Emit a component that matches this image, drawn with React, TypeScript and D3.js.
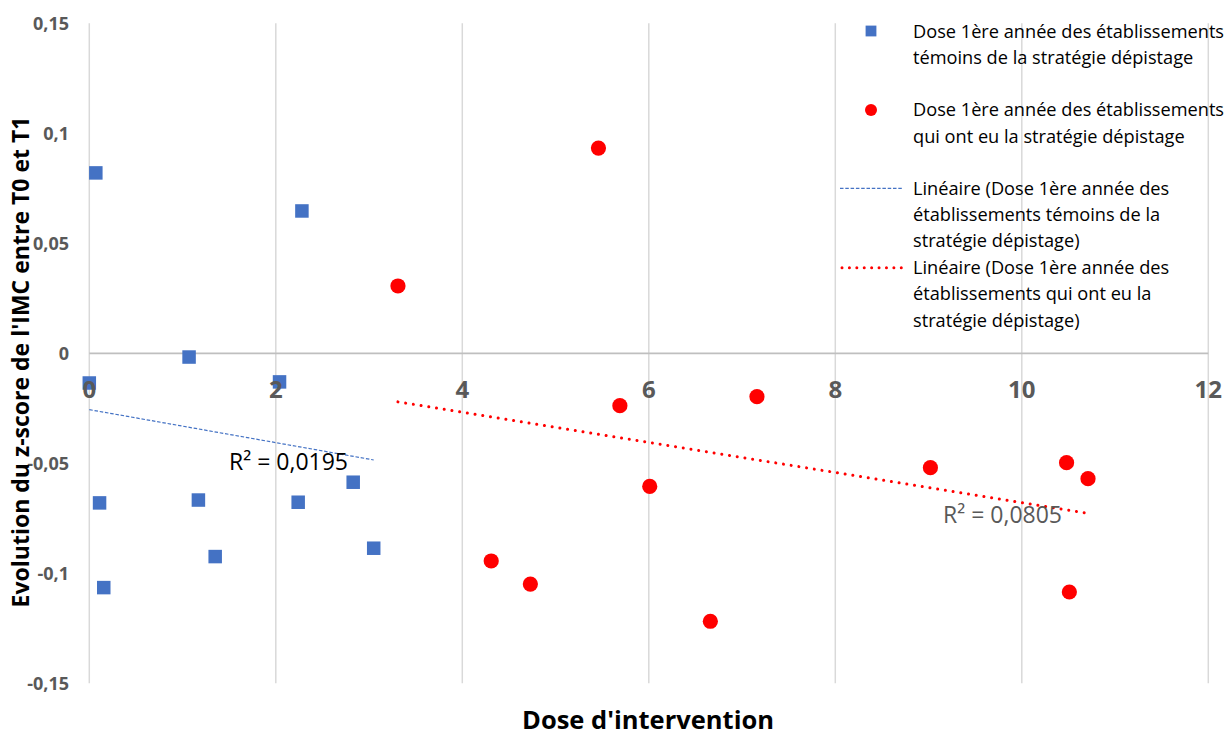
import React from "react";
import * as d3 from "d3";

const xTicks = [0, 2, 4, 6, 8, 10, 12];
const yTicks = [0.15, 0.1, 0.05, 0, -0.05, -0.1, -0.15];
const yTickLabels = ["0,15", "0,1", "0,05", "0", "-0,05", "-0,1", "-0,15"];

const blueX = [0, 0.07, 1.07, 2.04, 2.28, 0.11, 0.155, 1.17, 1.35, 2.24, 2.83, 3.05];
const blueY = [-0.0135, 0.082, -0.0017, -0.013, 0.0647, -0.068, -0.1065, -0.0667, -0.0924, -0.0677, -0.0586, -0.0886];

const redX = [3.31, 5.46, 5.69, 6.01, 7.16, 4.31, 4.73, 6.66, 9.02, 10.48, 10.71, 10.51];
const redY = [0.0306, 0.0933, -0.0238, -0.0605, -0.0197, -0.0944, -0.1049, -0.1218, -0.052, -0.0497, -0.057, -0.1085];

const r2Labels = ["R² = 0,0195", "R² = 0,0805"];

const legendBlue = ["Dose 1ère année des établissements", "témoins de la stratégie dépistage"];
const legendRed = ["Dose 1ère année des établissements", "qui ont eu la stratégie dépistage"];
const legendBlueTrend = ["Linéaire (Dose 1ère année des", "établissements témoins de la", "stratégie dépistage)"];
const legendRedTrend = ["Linéaire (Dose 1ère année des", "établissements qui ont eu la", "stratégie dépistage)"];

const xTitle = "Dose d'intervention";
const yTitle = "Evolution du z-score de l'IMC entre T0 et T1";

const BLUE = "#4472C4";
const RED = "#FF0000";
const FONT = "'Open Sans', sans-serif";

function regression(xs: number[], ys: number[]) {
  const mx = d3.mean(xs)!;
  const my = d3.mean(ys)!;
  let sxy = 0, sxx = 0;
  xs.forEach((x, i) => {
    sxy += (x - mx) * (ys[i] - my);
    sxx += (x - mx) * (x - mx);
  });
  const slope = sxy / sxx;
  const intercept = my - slope * mx;
  const [x0, x1] = d3.extent(xs) as [number, number];
  return [
    [x0, intercept + slope * x0],
    [x1, intercept + slope * x1],
  ] as [number, number][];
}

export default function App() {
  const W = 1231, H = 736;
  const x = d3.scaleLinear().domain([0, 12]).range([89.3, 1208.3]);
  const y = d3.scaleLinear().domain([-0.15, 0.15]).range([683.3, 23.3]);
  const line = d3.line<[number, number]>().x((d) => x(d[0])).y((d) => y(d[1]));
  const blueTrend = regression(blueX, blueY);
  const redTrend = regression(redX, redY);
  const sq = 13.5;

  const legendText = (lines: string[], yc: number) =>
    lines.map((t, i) => (
      <text key={i} x={913} y={yc + i * 26.3} dy="0.35em" fontSize={18.2} fill="#000" fontFamily={FONT}>
        {t}
      </text>
    ));

  return (
    <svg width={W} height={H} style={{ position: "absolute", left: 0, top: 0, display: "block", background: "#fff" }}>
      {/* vertical gridlines */}
      {xTicks.map((t) => (
        <line key={t} x1={x(t)} x2={x(t)} y1={y(0.15)} y2={y(-0.15)} stroke="#d9d9d9" strokeWidth={1.5} />
      ))}
      {/* x axis line at 0 */}
      <line x1={x(0)} x2={x(12)} y1={y(0)} y2={y(0)} stroke="#bfbfbf" strokeWidth={1.8} />

      {/* y tick labels */}
      {yTicks.map((t, i) => (
        <text key={t} x={69} y={y(t)} dy="0.35em" textAnchor="end" fontSize={18} fontWeight="bold" fill="#595959" fontFamily={FONT}>
          {yTickLabels[i]}
        </text>
      ))}

      {/* trendlines */}
      <path d={line(blueTrend)!} fill="none" stroke={BLUE} strokeWidth={1.2} strokeDasharray="3.5,1.8" />
      <path d={line(redTrend)!} fill="none" stroke={RED} strokeWidth={3} strokeDasharray="0.01,7.8" strokeLinecap="round" />

      {/* points */}
      {blueX.map((v, i) => (
        <rect key={i} x={x(v) - sq / 2} y={y(blueY[i]) - sq / 2} width={sq} height={sq} fill={BLUE} />
      ))}
      {redX.map((v, i) => (
        <circle key={i} cx={x(v)} cy={y(redY[i])} r={7.6} fill={RED} />
      ))}

      {/* x tick labels */}
      {xTicks.map((t) => (
        <text key={t} x={x(t)} y={390} dy="0.35em" textAnchor="middle" fontSize={24} fontWeight="bold" fill="#595959" fontFamily={FONT}>
          {t}
        </text>
      ))}

      {/* R² labels */}
      <text x={229} y={462} dy="0.35em" fontSize={23} fill="#000" fontFamily={FONT}>{r2Labels[0]}</text>
      <text x={943} y={515} dy="0.35em" fontSize={23} fill="#595959" fontFamily={FONT}>{r2Labels[1]}</text>

      {/* legend */}
      <rect x={871 - 5.4} y={31 - 5.4} width={10.8} height={10.8} fill={BLUE} />
      {legendText(legendBlue, 31.5)}
      <circle cx={871} cy={110} r={6} fill={RED} />
      {legendText(legendRed, 110)}
      <line x1={840} x2={903} y1={188.3} y2={188.3} stroke={BLUE} strokeWidth={1.2} strokeDasharray="3.5,1.8" />
      {legendText(legendBlueTrend, 188.3)}
      <line x1={842} x2={903} y1={267.7} y2={267.7} stroke={RED} strokeWidth={3} strokeDasharray="0.01,7.4" strokeLinecap="round" />
      {legendText(legendRedTrend, 267.7)}

      {/* axis titles */}
      <text x={648} y={729} textAnchor="middle" fontSize={25.5} fontWeight="bold" fill="#000" fontFamily={FONT}>
        {xTitle}
      </text>
      <text transform={`translate(28.5,362) rotate(-90)`} textAnchor="middle" fontSize={23} fontWeight="bold" fill="#000" fontFamily={FONT}>
        {yTitle}
      </text>
    </svg>
  );
}
